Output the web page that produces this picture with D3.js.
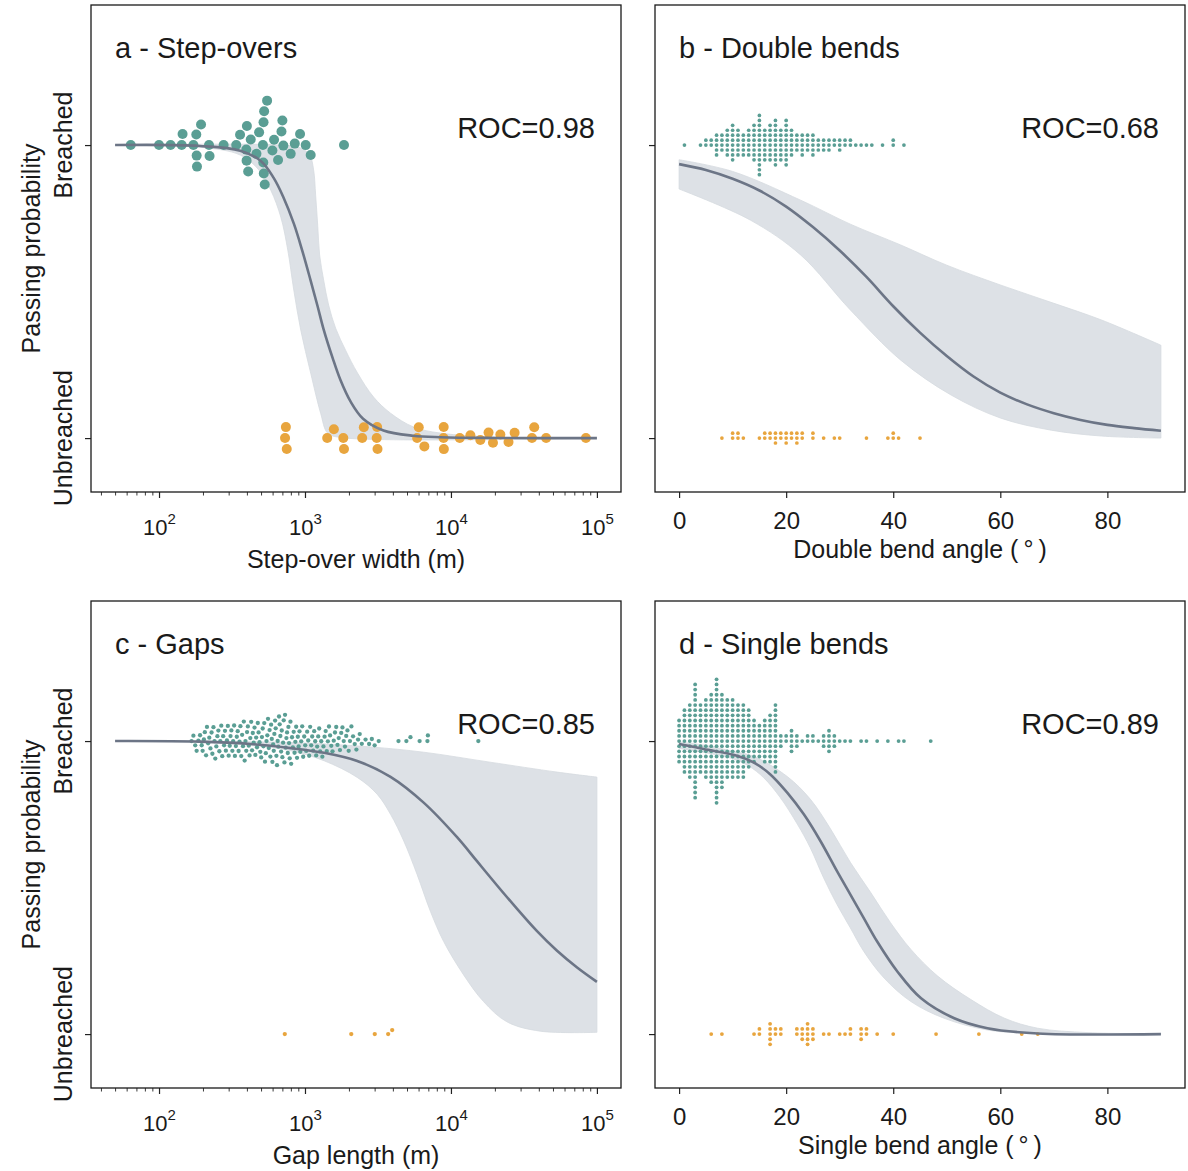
<!DOCTYPE html>
<html><head><meta charset="utf-8">
<script src="https://cdn.jsdelivr.net/npm/d3@7"></script>
<style>
body{margin:0;background:#fff}
svg{display:block}
text{font-family:"Liberation Sans",Arial,Helvetica,sans-serif;fill:#1a1a1a}
</style>
</head><body>
<svg id="chart" width="1188" height="1171"></svg>
<script>
// ---------------- DATA ----------------
// Panel a: step-over width (m)
const aBreached = [64,100,120,143,145,172,180,181,182,194,220,222,277,338,359,396,398,400,408,425,465,485,515,518,520,522,525,530,550,598,614,654,690,700,711,798,851,925,1011,1094,1850];
const aUnbreached = [730,740,750,1420,1577,1830,1850,2466,2530,3100,3120,3140,5864,6016,6575,8900,8920,8940,11490,13590,15900,18100,19400,21800,24800,27300,35900,37200,44900,84100];
const aFit  = [[50,1.0],[190,0.997],[360,0.981],[500,0.945],[610,0.888],[710,0.823],[840,0.731],[960,0.638],[1090,0.540],[1220,0.450],[1340,0.372],[1550,0.272],[1750,0.198],[2050,0.125],[2500,0.066],[3450,0.026],[5500,0.008],[8500,0.003],[20000,0.0005],[100000,0]];
const aHigh = [[50,1.0],[683,1.0],[935,0.99],[1077,0.966],[1146,0.915],[1183,0.829],[1222,0.727],[1260,0.625],[1343,0.539],[1452,0.454],[1622,0.375],[1897,0.300],[2291,0.222],[2951,0.140],[3855,0.085],[5534,0.038],[8472,0.017],[21800,0.003],[100000,0]];
const aLow  = [[50,1.0],[190,0.993],[360,0.966],[483,0.915],[583,0.846],[683,0.754],[762,0.642],[838,0.505],[935,0.369],[1094,0.222],[1280,0.085],[1429,0.017],[1754,0.002],[100000,0]];

// Panel b: double bend angle (deg) -> [angle, count]
const bBreachedAngles = [1,4,5,6,7,8,9,10,11,12,13,14,15,16,17,18,19,20,21,22,23,24,25,26,27,28,29,30,31,32,33,34,35,36,38,40,42];
const bBreachedCounts = [1,1,2,2,5,4,6,8,6,5,6,8,13,7,8,10,7,10,6,4,5,4,5,3,3,3,2,3,2,2,1,1,1,1,1,2,1];
const bUnbreachedAngles = [8,10,11,12,15,16,17,18,19,20,21,22,23,25,27,29,30,35,39,40,41,45];
const bUnbreachedCounts = [1,2,2,1,1,2,2,3,2,3,2,3,2,2,1,1,1,1,1,2,1,1];
const bFit  = [[0,0.935],[5,0.915],[10,0.885],[15,0.845],[20,0.79],[25,0.72],[30,0.64],[35,0.55],[40,0.45],[45,0.36],[50,0.28],[55,0.21],[60,0.155],[65,0.115],[70,0.085],[75,0.062],[80,0.045],[85,0.034],[90,0.025]];
const bHigh = [[0,0.95],[10,0.91],[22.7,0.812],[32,0.73],[41.4,0.659],[50,0.59],[60.1,0.522],[70,0.46],[78.9,0.403],[90,0.317]];
const bLow  = [[0,0.85],[13.3,0.744],[22.7,0.625],[32,0.437],[41.4,0.266],[50.8,0.147],[60.1,0.068],[69.5,0.027],[78.9,0.007],[90,0.0]];

// Panel c: gap length (m)
const cBreached = [167,172,177,181,186,191,196,199,203,206,210,213,217,221,225,229,232,236,240,243,247,251,255,259,263,267,271,275,279,283,287,292,296,300,305,309,313,318,322,327,331,336,341,346,351,356,361,366,371,376,381,386,391,396,401,406,412,417,422,428,434,439,445,451,457,463,469,475,481,488,494,501,507,513,519,526,532,539,545,552,558,565,572,579,586,592,598,605,611,617,624,630,637,643,650,657,664,671,678,686,693,700,708,715,723,730,738,746,754,762,770,778,786,795,804,815,826,837,848,859,870,882,893,905,917,929,942,957,972,988,1003,1019,1035,1052,1068,1085,1103,1120,1138,1156,1175,1193,1212,1232,1251,1271,1292,1315,1338,1362,1386,1410,1435,1460,1486,1514,1544,1574,1605,1637,1670,1703,1736,1771,1806,1842,1879,1916,1954,1993,2033,2080,2135,2192,2250,2310,2372,2450,2600,2750,2870,3000,3200,4370,4950,5280,6100,6900,6950,15400];
const cUnbreached = [727,2075,3006,3714,3958];
const cFit  = [[50,1.0],[194,0.998],[425,0.99],[798,0.976],[1349,0.960],[2280,0.932],[3855,0.878],[6502,0.790],[11010,0.672],[15080,0.590],[20650,0.508],[28300,0.428],[38740,0.352],[53100,0.285],[72800,0.228],[100000,0.178]];
const cHigh = [[50,1.0],[800,0.995],[2800,0.98],[6500,0.962],[18500,0.928],[53500,0.894],[100000,0.877]];
const cLow  = [[50,1.0],[194,0.995],[425,0.985],[798,0.967],[1349,0.933],[2280,0.876],[3130,0.818],[3855,0.750],[4750,0.659],[5860,0.545],[7230,0.419],[8910,0.316],[12210,0.202],[16720,0.111],[24150,0.042],[40800,0.010],[100000,0.006]];

// Panel d: single bend angle (deg) -> [angle, count]
const dBreachedAngles = [0,1,2,3,4,5,6,7,8,9,10,11,12,13,14,15,16,17,18,19,20,21,22,23,24,25,26,27,28,29,30,31,32,34,35,37,39,41,42,47];
const dBreachedCounts = [9,13,15,23,14,16,18,25,19,16,16,15,15,12,9,7,9,10,14,3,2,5,3,1,2,2,1,3,5,3,1,1,1,1,1,1,1,1,1,1];
const dUnbreachedAngles = [6,8,14,15,17,18,19,22,23,24,25,27,28,30,31,32,34,35,37,40,48,56,64,67];
const dUnbreachedCounts = [1,1,1,2,5,2,2,2,3,5,3,1,1,1,1,2,3,2,1,1,1,1,1,1];
const dFit  = [[0,0.99],[4.6,0.973],[10.8,0.950],[13.9,0.927],[17,0.887],[20.2,0.824],[23.3,0.750],[26.4,0.659],[29.5,0.556],[32,0.476],[34.5,0.396],[37,0.316],[40.8,0.213],[45.2,0.122],[51.4,0.054],[57.6,0.020],[67,0.002],[90,0]];
const dHigh = [[0,0.997],[5,0.985],[10,0.965],[13.9,0.948],[20.2,0.879],[24.5,0.802],[28.3,0.700],[32,0.586],[35.8,0.483],[39.5,0.380],[43.3,0.289],[48.3,0.198],[54.5,0.118],[60.8,0.054],[67,0.020],[76.4,0.005],[90,0.001]];
const dLow  = [[0,0.975],[5,0.96],[10,0.94],[13,0.915],[15.8,0.875],[18.9,0.807],[22.1,0.716],[24.5,0.636],[27,0.533],[29.5,0.442],[32,0.362],[34.5,0.282],[38.3,0.191],[43.3,0.111],[49.5,0.054],[57.6,0.014],[67,0.002],[90,0]];

const titles = ["a - Step-overs","b - Double bends","c - Gaps","d - Single bends"];
const rocLabels = ["ROC=0.98","ROC=0.68","ROC=0.85","ROC=0.89"];
const xLabels = ["Step-over width (m)","Double bend angle (\u2009°\u2009)","Gap length (m)","Single bend angle (\u2009°\u2009)"];
const yTickLabels = ["Unbreached","Breached"];
const yLabel = "Passing probability";
const logTicks = [100,1000,10000,100000];
const linTicks = [0,20,40,60,80];

// ---------------- HELPERS ----------------
function expand(angles, counts){ const out=[]; angles.forEach((a,i)=>{ for(let k=0;k<counts[i];k++) out.push(a); }); return out; }

const TEAL = "#5a9e94", ORANGE = "#e8a53e", BAND = "#dde1e6", LINE = "#6c7586";

const panels = [
  {left:91,  top:5,   log:true,  domain:[50,100000], br:aBreached, ub:aUnbreached, r:5.25, dr:5.0, fit:aFit, hi:aHigh, lo:aLow, ylab:true},
  {left:655, top:5,   log:false, domain:[0,90], br:expand(bBreachedAngles,bBreachedCounts), ub:expand(bUnbreachedAngles,bUnbreachedCounts), r:2.35, dr:1.85, fit:bFit, hi:bHigh, lo:bLow, ylab:false},
  {left:91,  top:601, log:true,  domain:[50,100000], br:cBreached, ub:cUnbreached, r:2.7, dr:2.15, fit:cFit, hi:cHigh, lo:cLow, ylab:true},
  {left:655, top:601, log:false, domain:[0,90], br:expand(dBreachedAngles,dBreachedCounts), ub:expand(dUnbreachedAngles,dUnbreachedCounts), r:2.45, dr:1.9, fit:dFit, hi:dHigh, lo:dLow, ylab:false}
];
const W = 530, H = 487;

function swarm(vals, xs, cy, r){
  const d = 2*r*1.05;
  const pts = vals.map(v=>({v, x:xs(v)})).sort((a,b)=>a.x-b.x);
  const placed = [];
  for(const p of pts){
    const neigh = placed.filter(q=>Math.abs(q.x-p.x) < d);
    const cands = [0];
    let first = true;
    for(const q of neigh){
      const dx = p.x-q.x;
      const dy = Math.sqrt(Math.max(d*d-dx*dx,0));
      const c1 = q.dy-dy, c2 = q.dy+dy;
      if(first) cands.push(c1,c2); else cands.push(c2,c1);
      first = !first;
    }
    const order = cands.map((c,i)=>({c,i})).sort((a,b)=>(Math.abs(a.c)-Math.abs(b.c))||(a.i-b.i));
    let chosen = 0;
    for(const o of order){
      if(neigh.every(q=>(q.x-p.x)**2+(q.dy-o.c)**2 >= d*d-1e-6)){ chosen=o.c; break; }
    }
    p.dy = chosen; placed.push(p);
  }
  return pts.map(p=>({v:p.v, x:p.x, y:cy+p.dy}));
}

const svg = d3.select("#chart");

panels.forEach((P,i)=>{
  const g = svg.append("g");
  let x;
  if(P.log){
    const l0 = Math.log10(P.domain[0]), l1 = Math.log10(P.domain[1]), pad=(l1-l0)*0.05;
    x = d3.scaleLog().domain([10**(l0-pad), 10**(l1+pad)]).range([P.left, P.left+W]);
  } else {
    const pad=(P.domain[1]-P.domain[0])*0.05;
    x = d3.scaleLinear().domain([P.domain[0]-pad, P.domain[1]+pad]).range([P.left, P.left+W]);
  }
  const y = d3.scaleLinear().domain([-0.184, 1.478]).range([P.top+H, P.top]);

  // band
  const line = d3.line().x(d=>x(d[0])).y(d=>y(d[1])).curve(d3.curveCatmullRom.alpha(0.5));
  const up = line(P.hi);
  const dn = line(P.lo.slice().reverse());
  g.append("path").attr("d", up + "L" + dn.slice(1) + "Z")
    .attr("fill", BAND).attr("stroke", "#d5dadf").attr("stroke-width", 0.8);

  // points
  const sb = swarm(P.br, x, y(1), P.r);
  const su = swarm(P.ub, x, y(0), P.r);
  g.append("g").selectAll("circle").data(sb).join("circle")
    .attr("cx", d=>d.x).attr("cy", d=>d.y).attr("r", P.dr).attr("fill", TEAL);
  g.append("g").selectAll("circle").data(su).join("circle")
    .attr("cx", d=>d.x).attr("cy", d=>d.y).attr("r", P.dr).attr("fill", ORANGE);

  // fit line
  g.append("path").attr("d", line(P.fit)).attr("fill","none")
    .attr("stroke", LINE).attr("stroke-width", 2.6);

  // x axis
  const bottom = P.top+H;
  if(P.log){
    const ax = g.append("g").attr("transform",`translate(0,${bottom})`)
      .call(d3.axisBottom(x).tickValues(logTicks).tickSize(6).tickFormat(()=>""));
    ax.select(".domain").remove();
    ax.selectAll(".tick line").attr("stroke","#222").attr("stroke-width",1.2);
    ax.selectAll(".tick text").each(function(d){
      const t = d3.select(this);
      t.attr("y", 43).attr("dy", 0).attr("font-size", 22).attr("fill","#1a1a1a");
      t.append("tspan").text("10");
      t.append("tspan").attr("dy", -11).attr("font-size", 15).text(String(Math.round(Math.log10(d))));
    });
    const minors = [];
    const [d0,d1] = x.domain();
    for(let e=1;e<=5;e++) for(let m=2;m<=9;m++){ const v=m*10**e; if(v>=d0 && v<=d1) minors.push(v); }
    const am = g.append("g").attr("transform",`translate(0,${bottom})`)
      .call(d3.axisBottom(x).tickValues(minors).tickSize(3.5).tickFormat(()=>""));
    am.select(".domain").remove();
    am.selectAll(".tick line").attr("stroke","#222").attr("stroke-width",0.9);
    g.append("text").attr("x", P.left+W/2).attr("y", bottom+76).attr("text-anchor","middle")
      .attr("font-size", 25).text(xLabels[i]);
  } else {
    const ax = g.append("g").attr("transform",`translate(0,${bottom})`)
      .call(d3.axisBottom(x).tickValues(linTicks).tickSize(6));
    ax.select(".domain").remove();
    ax.selectAll(".tick line").attr("stroke","#222").attr("stroke-width",1.2);
    ax.selectAll(".tick text").attr("y", 37).attr("dy", 0).attr("font-size", 24)
      .attr("fill","#1a1a1a").attr("font-family",'"Liberation Sans",Arial,sans-serif');
    g.append("text").attr("x", P.left+W/2).attr("y", bottom+66).attr("text-anchor","middle")
      .attr("font-size", 25).text(xLabels[i]);
  }

  // y axis
  const ay = g.append("g").attr("transform",`translate(${P.left},0)`)
    .call(d3.axisLeft(y).tickValues([0,1]).tickSize(6).tickFormat(()=>""));
  ay.select(".domain").remove();
  ay.selectAll(".tick line").attr("stroke","#222").attr("stroke-width",1.2);
  if(P.ylab){
    [0,1].forEach(v=>{
      g.append("text").attr("transform",`translate(${P.left-19},${y(v)}) rotate(-90)`)
        .attr("text-anchor","middle").attr("font-size",25).text(yTickLabels[v]);
    });
    g.append("text").attr("transform",`translate(${P.left-51},${P.top+H/2}) rotate(-90)`)
      .attr("text-anchor","middle").attr("font-size",25).text(yLabel);
  }

  // frame
  g.append("rect").attr("x",P.left).attr("y",P.top).attr("width",W).attr("height",H)
    .attr("fill","none").attr("stroke","#1a1a1a").attr("stroke-width",1.3);

  // title & ROC
  g.append("text").attr("x",P.left+24).attr("y",P.top+53).attr("font-size",29).text(titles[i]);
  g.append("text").attr("x",P.left+W-26).attr("y",P.top+133).attr("text-anchor","end")
    .attr("font-size",29).text(rocLabels[i]);
});
</script>
</body></html>
